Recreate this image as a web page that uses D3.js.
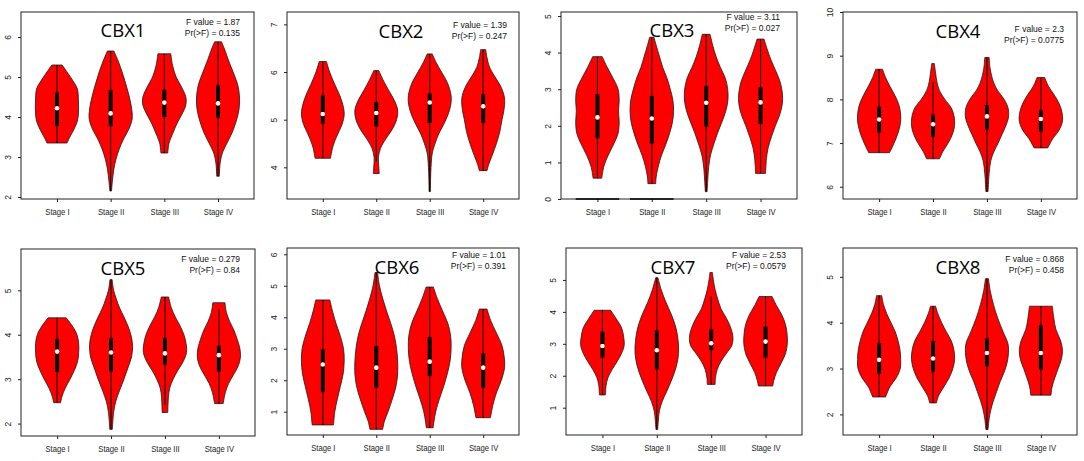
<!DOCTYPE html>
<html>
<head>
<meta charset="utf-8">
<script src="https://cdn.jsdelivr.net/npm/d3@7"></script>
<style>
  body { margin: 0; background: #fff; }
  svg { display: block; }
</style>
</head>
<body>
<div id="chart"></div>
<script>
// ---- data ----
var genes = ["CBX1", "CBX2", "CBX3", "CBX4", "CBX5", "CBX6", "CBX7", "CBX8"];
var stages = ["Stage I", "Stage II", "Stage III", "Stage IV"];
var fValues = ["1.87", "1.39", "3.11", "2.3", "0.279", "1.01", "2.53", "0.868"];
var pValues = ["0.135", "0.247", "0.027", "0.0775", "0.84", "0.391", "0.0579", "0.458"];

var yLimits = [[1.95, 6.625], [3.335, 7.26], [0, 5.11], [5.72, 10],
               [1.72, 5.93], [0.26, 6.2], [0.145, 6.0], [1.55, 5.63]];
var yTicks = [[2, 3, 4, 5, 6], [4, 5, 6, 7], [0, 1, 2, 3, 4, 5], [6, 7, 8, 9, 10],
              [2, 3, 4, 5], [1, 2, 3, 4, 5, 6], [1, 2, 3, 4, 5], [2, 3, 4, 5]];

// box stats, one row per gene, one value per stage
var q1s = [[3.78, 3.77, 4.0, 3.98], [4.92, 4.86, 4.93, 4.93], [1.66, 1.52, 1.98, 2.05], [7.24, 7.14, 7.31, 7.26],
           [3.16, 3.17, 3.33, 3.17], [1.62, 1.76, 2.13, 1.76], [2.57, 2.2, 2.8, 2.57], [2.89, 2.93, 3.05, 2.98]];
var medians = [[4.22, 4.09, 4.36, 4.34], [5.12, 5.14, 5.36, 5.28], [2.23, 2.2, 2.63, 2.64], [7.54, 7.43, 7.61, 7.55],
               [3.62, 3.6, 3.58, 3.54], [2.5, 2.4, 2.59, 2.4], [2.93, 2.8, 3.02, 3.07], [3.19, 3.22, 3.34, 3.34]];
var q3s = [[4.61, 4.67, 4.68, 4.79], [5.51, 5.37, 5.55, 5.53], [2.86, 2.82, 3.09, 3.05], [7.83, 7.65, 7.87, 7.75],
           [3.9, 3.92, 3.93, 3.75], [2.98, 3.09, 3.37, 2.85], [3.38, 3.42, 3.45, 3.54], [3.55, 3.6, 3.66, 3.94]];
var whiskerLo = [[3.35, 2.15, 3.1, 2.52], [4.19, 4.12, 3.49, 3.93], [0.57, 0.42, 0.2, 0.7], [6.78, 6.64, 5.89, 6.89],
                 [2.47, 1.87, 2.43, 2.45], [0.58, 0.44, 0.49, 0.81], [1.4, 0.32, 1.73, 1.68], [2.38, 2.25, 1.67, 2.42]];
var whiskerHi = [[5.3, 5.65, 5.58, 5.88], [6.22, 6.03, 6.38, 6.47], [3.89, 4.42, 4.5, 4.37], [8.69, 8.4, 8.96, 8.5],
                 [4.38, 5.24, 4.85, 4.58], [4.55, 5.42, 4.96, 4.26], [4.05, 5.07, 4.48, 4.48], [4.59, 4.36, 4.96, 4.36]];

// stages with a flat group of zeros at the bottom
var zeroGroups = [[], [], [0, 1], [], [], [], [], []];

// violin outlines: [value, relative half width]
var violinCBX1 = [
  [[5.3, .24], [5.1, .5], [4.9, .75], [4.7, .95], [4.4, 1], [4.1, 1], [3.9, .95], [3.7, .8], [3.5, .6], [3.35, .47]],
  [[5.65, .15], [5.4, .35], [5.1, .55], [4.8, .72], [4.5, .87], [4.2, .98], [3.95, 1], [3.7, .85], [3.45, .6], [3.2, .4], [2.95, .25], [2.7, .15], [2.4, .08], [2.15, .04]],
  [[5.58, .3], [5.3, .38], [5.0, .55], [4.75, .8], [4.5, 1], [4.3, 1], [4.1, .85], [3.85, .6], [3.6, .4], [3.35, .22], [3.1, .16]],
  [[5.88, .16], [5.7, .3], [5.4, .5], [5.1, .72], [4.8, .92], [4.5, 1], [4.2, .98], [3.9, .85], [3.6, .65], [3.35, .42], [3.1, .2], [2.85, .1], [2.52, .06]]
];
var violinCBX2 = [
  [[6.22, .17], [6.0, .32], [5.75, .55], [5.5, .8], [5.25, .97], [5.1, 1], [4.9, .9], [4.7, .7], [4.45, .48], [4.19, .36]],
  [[6.03, .12], [5.85, .3], [5.6, .6], [5.4, .85], [5.2, 1], [5.0, .95], [4.8, .75], [4.6, .45], [4.4, .2], [4.2, .1], [4.0, .12], [3.87, .14]],
  [[6.38, .12], [6.2, .3], [6.0, .55], [5.75, .85], [5.5, 1], [5.3, .98], [5.1, .85], [4.9, .65], [4.7, .42], [4.5, .25], [4.3, .12], [4.0, .06], [3.75, .04], [3.49, .03]],
  [[6.47, .12], [6.3, .18], [6.1, .3], [5.9, .55], [5.7, .82], [5.45, 1], [5.2, .97], [5.0, .88], [4.75, .78], [4.5, .62], [4.25, .42], [4.05, .25], [3.93, .18]]
];
var violinCBX3 = [
  [[3.89, .22], [3.6, .45], [3.3, .72], [3.0, .95], [2.7, 1], [2.4, .97], [2.1, 1], [1.8, .95], [1.5, .75], [1.2, .5], [0.9, .3], [0.57, .2]],
  [[4.42, .1], [4.2, .2], [3.9, .35], [3.6, .5], [3.3, .7], [3.0, .85], [2.7, .97], [2.4, 1], [2.1, .95], [1.8, .82], [1.5, .65], [1.2, .45], [0.9, .3], [0.6, .2], [0.42, .18]],
  [[4.5, .18], [4.2, .3], [3.9, .45], [3.6, .65], [3.3, .88], [3.0, .99], [2.7, 1], [2.4, .9], [2.1, .72], [1.8, .52], [1.5, .35], [1.2, .2], [0.9, .12], [0.6, .08], [0.2, .04]],
  [[4.37, .16], [4.1, .3], [3.8, .48], [3.5, .7], [3.2, .9], [2.9, 1], [2.6, 1], [2.3, .88], [2.0, .68], [1.7, .5], [1.4, .35], [1.1, .27], [0.7, .23]]
];
var violinCBX4 = [
  [[8.69, .16], [8.5, .3], [8.3, .5], [8.1, .72], [7.9, .9], [7.7, .99], [7.5, 1], [7.3, .92], [7.1, .78], [6.9, .6], [6.78, .48]],
  [[8.82, .06], [8.6, .12], [8.4, .18], [8.2, .3], [8.0, .55], [7.8, .85], [7.6, .98], [7.4, 1], [7.2, .9], [7.0, .7], [6.8, .45], [6.64, .3]],
  [[8.96, .1], [8.7, .15], [8.4, .3], [8.2, .5], [8.0, .8], [7.8, .98], [7.6, 1], [7.4, .88], [7.2, .7], [7.0, .52], [6.8, .32], [6.6, .18], [6.3, .1], [5.89, .05]],
  [[8.5, .18], [8.3, .35], [8.1, .62], [7.9, .85], [7.7, .98], [7.5, 1], [7.3, .85], [7.1, .55], [6.95, .38], [6.89, .32]]
];
var violinCBX5 = [
  [[4.38, .42], [4.2, .7], [4.0, .92], [3.8, 1], [3.6, 1], [3.4, .95], [3.2, .8], [3.0, .6], [2.8, .38], [2.6, .22], [2.47, .16]],
  [[5.24, .05], [5.0, .12], [4.8, .25], [4.6, .4], [4.4, .6], [4.2, .78], [4.0, .92], [3.75, 1], [3.5, .95], [3.25, .78], [3.0, .6], [2.75, .4], [2.5, .22], [2.25, .12], [1.87, .06]],
  [[4.85, .17], [4.6, .3], [4.4, .48], [4.2, .7], [4.0, .88], [3.8, .98], [3.6, 1], [3.4, .85], [3.2, .6], [3.0, .38], [2.8, .22], [2.6, .16], [2.4, .14], [2.25, .13]],
  [[4.72, .28], [4.5, .35], [4.3, .5], [4.1, .7], [3.9, .85], [3.7, .97], [3.5, 1], [3.3, .9], [3.1, .68], [2.9, .45], [2.7, .3], [2.45, .2]]
];
var violinCBX6 = [
  [[4.55, .33], [4.2, .45], [3.8, .62], [3.4, .82], [3.0, .97], [2.6, 1], [2.2, .95], [1.8, .82], [1.4, .68], [1.0, .56], [0.58, .5]],
  [[5.42, .06], [5.0, .15], [4.6, .3], [4.2, .48], [3.8, .68], [3.4, .85], [3.0, .95], [2.6, 1], [2.2, 1], [1.8, .92], [1.4, .75], [1.0, .55], [0.7, .38], [0.44, .3]],
  [[4.96, .17], [4.6, .35], [4.2, .6], [3.8, .85], [3.4, .98], [3.0, 1], [2.6, .95], [2.2, .82], [1.8, .65], [1.4, .45], [1.0, .28], [0.7, .2], [0.49, .16]],
  [[4.26, .18], [3.9, .35], [3.5, .62], [3.1, .88], [2.7, .99], [2.4, 1], [2.0, .85], [1.6, .62], [1.2, .45], [0.81, .34]]
];
var violinCBX7 = [
  [[4.05, .38], [3.8, .62], [3.5, .88], [3.2, .98], [2.95, 1], [2.7, .88], [2.45, .68], [2.2, .45], [1.95, .26], [1.7, .17], [1.4, .14]],
  [[5.07, .05], [4.7, .2], [4.3, .42], [3.9, .68], [3.5, .88], [3.1, .98], [2.7, 1], [2.3, .9], [1.9, .7], [1.5, .45], [1.2, .25], [0.9, .12], [0.6, .07], [0.32, .04]],
  [[5.23, .06], [5.0, .1], [4.7, .18], [4.4, .3], [4.1, .45], [3.8, .7], [3.5, .9], [3.2, 1], [2.95, .95], [2.7, .7], [2.45, .45], [2.2, .28], [1.95, .2], [1.73, .18]],
  [[4.48, .3], [4.2, .5], [3.9, .75], [3.6, .92], [3.3, .99], [3.0, 1], [2.7, .92], [2.4, .72], [2.1, .5], [1.85, .38], [1.68, .33]]
];
var violinCBX8 = [
  [[4.59, .12], [4.4, .2], [4.2, .35], [4.0, .55], [3.8, .75], [3.6, .88], [3.4, .97], [3.2, 1], [3.0, .98], [2.8, .8], [2.6, .5], [2.38, .3]],
  [[4.36, .12], [4.2, .22], [4.0, .4], [3.8, .62], [3.6, .85], [3.4, .97], [3.2, 1], [3.0, .92], [2.8, .75], [2.6, .5], [2.4, .25], [2.25, .16]],
  [[4.96, .07], [4.7, .15], [4.4, .3], [4.1, .5], [3.8, .75], [3.55, .97], [3.35, 1], [3.1, .92], [2.9, .78], [2.7, .6], [2.5, .45], [2.3, .3], [2.1, .18], [1.9, .1], [1.67, .05]],
  [[4.36, .53], [4.1, .6], [3.85, .7], [3.6, .92], [3.4, 1], [3.2, .95], [3.0, .8], [2.8, .65], [2.6, .52], [2.42, .47]]
];
var violins = [violinCBX1, violinCBX2, violinCBX3, violinCBX4, violinCBX5, violinCBX6, violinCBX7, violinCBX8];

// ---- panel layout (frame box, title position, stats position) ----
var layout = [
  {frame: [21, 12, 254, 199],   title: [123, 37],  stats: [240, 25]},
  {frame: [287, 12, 519, 199],  title: [401, 38],  stats: [507, 28]},
  {frame: [561, 12, 797, 199],  title: [672, 37],  stats: [780, 20]},
  {frame: [843, 12, 1077, 199], title: [958, 38],  stats: [1064, 32]},
  {frame: [21, 249, 255, 436],  title: [123, 275], stats: [240, 262]},
  {frame: [287, 248, 519, 435], title: [397, 274], stats: [506, 258]},
  {frame: [566, 248, 802, 435], title: [673, 274], stats: [786, 258]},
  {frame: [843, 248, 1077, 435],title: [958, 274], stats: [1064, 262]}
];

var svg = d3.select("#chart")
            .append("svg")
            .attr("width", 1084)
            .attr("height", 461);

genes.forEach(function(gene, i) {
  var L = layout[i];
  var xScale = d3.scaleLinear().domain([0.33, 4.67]).range([L.frame[0], L.frame[2]]);
  var yScale = d3.scaleLinear().domain(yLimits[i]).range([L.frame[3], L.frame[1]]);
  var unit = xScale(1) - xScale(0);
  var wScale = d3.scaleLinear().domain([0, 1]).range([0, 0.4 * unit]);

  var panel = svg.append("g").attr("class", "panel");

  // frame
  panel.append("rect")
       .attr("x", L.frame[0]).attr("y", L.frame[1])
       .attr("width", L.frame[2] - L.frame[0])
       .attr("height", L.frame[3] - L.frame[1])
       .attr("fill", "none")
       .attr("stroke", "#222")
       .attr("stroke-width", 1);

  // y axis, labels turned like R does
  var yAxisG = panel.append("g")
       .attr("transform", "translate(" + L.frame[0] + ",0)")
       .call(d3.axisLeft(yScale).tickValues(yTicks[i]).tickSize(3).tickFormat(d3.format("d")));
  yAxisG.select(".domain").remove();
  yAxisG.attr("font-family", "'Liberation Sans', Arial, sans-serif")
        .attr("font-size", 8.5)
        .attr("color", "#222");
  yAxisG.selectAll("text")
        .attr("x", null)
        .attr("dy", null)
        .attr("text-anchor", "middle")
        .attr("transform", "translate(-10,0) rotate(-90)");

  // x axis
  var xAxisG = panel.append("g")
       .attr("transform", "translate(0," + L.frame[3] + ")")
       .call(d3.axisBottom(xScale).tickValues([1, 2, 3, 4])
                .tickFormat(function(d) { return stages[d - 1]; })
                .tickSize(3).tickPadding(7));
  xAxisG.select(".domain").remove();
  xAxisG.attr("font-family", "'Liberation Sans', Arial, sans-serif")
        .attr("font-size", 8.5)
        .attr("color", "#222");
  xAxisG.selectAll("text").attr("transform", "scale(0.9,1)");

  // violins
  violins[i].forEach(function(profile, j) {
    var cx = xScale(j + 1);
    var violinArea = d3.area()
        .curve(d3.curveCatmullRom.alpha(0.5))
        .y(function(d) { return yScale(d[0]); })
        .x0(function(d) { return cx - wScale(d[1]); })
        .x1(function(d) { return cx + wScale(d[1]); });

    panel.append("path")
         .attr("d", violinArea(profile))
         .attr("fill", "#ff0000")
         .attr("stroke", "#1a1a1a")
         .attr("stroke-width", 0.8);

    // whisker
    panel.append("line")
         .attr("x1", cx).attr("x2", cx)
         .attr("y1", yScale(whiskerLo[i][j]))
         .attr("y2", yScale(whiskerHi[i][j]))
         .attr("stroke", "black")
         .attr("stroke-width", 1);

    // box
    panel.append("rect")
         .attr("x", cx - 2)
         .attr("width", 4)
         .attr("y", yScale(q3s[i][j]))
         .attr("height", yScale(q1s[i][j]) - yScale(q3s[i][j]))
         .attr("fill", "black");

    // median
    panel.append("circle")
         .attr("cx", cx)
         .attr("cy", yScale(medians[i][j]))
         .attr("r", 2.3)
         .attr("fill", "white");
  });

  // flat groups of zeros
  zeroGroups[i].forEach(function(j) {
    var cx = xScale(j + 1);
    panel.append("line")
         .attr("x1", cx - wScale(1)).attr("x2", cx + wScale(1))
         .attr("y1", yScale(0)).attr("y2", yScale(0))
         .attr("stroke", "black")
         .attr("stroke-width", 1.6);
  });

  // title
  panel.append("text")
       .attr("x", L.title[0]).attr("y", L.title[1])
       .attr("text-anchor", "middle")
       .attr("font-family", "'Open Sans', 'Noto Sans', sans-serif")
       .attr("font-size", 18.5)
       .attr("fill", "black")
       .text(gene);

  // F statistics
  var stat = panel.append("text")
       .attr("text-anchor", "end")
       .attr("font-family", "'Liberation Sans', Arial, sans-serif")
       .attr("font-size", 8.5)
       .attr("fill", "#111");
  stat.append("tspan").attr("x", L.stats[0]).attr("y", L.stats[1])
      .text("F value = " + fValues[i]);
  stat.append("tspan").attr("x", L.stats[0]).attr("y", L.stats[1] + 10.5)
      .text("Pr(>F) = " + pValues[i]);
});
</script>
</body>
</html>
